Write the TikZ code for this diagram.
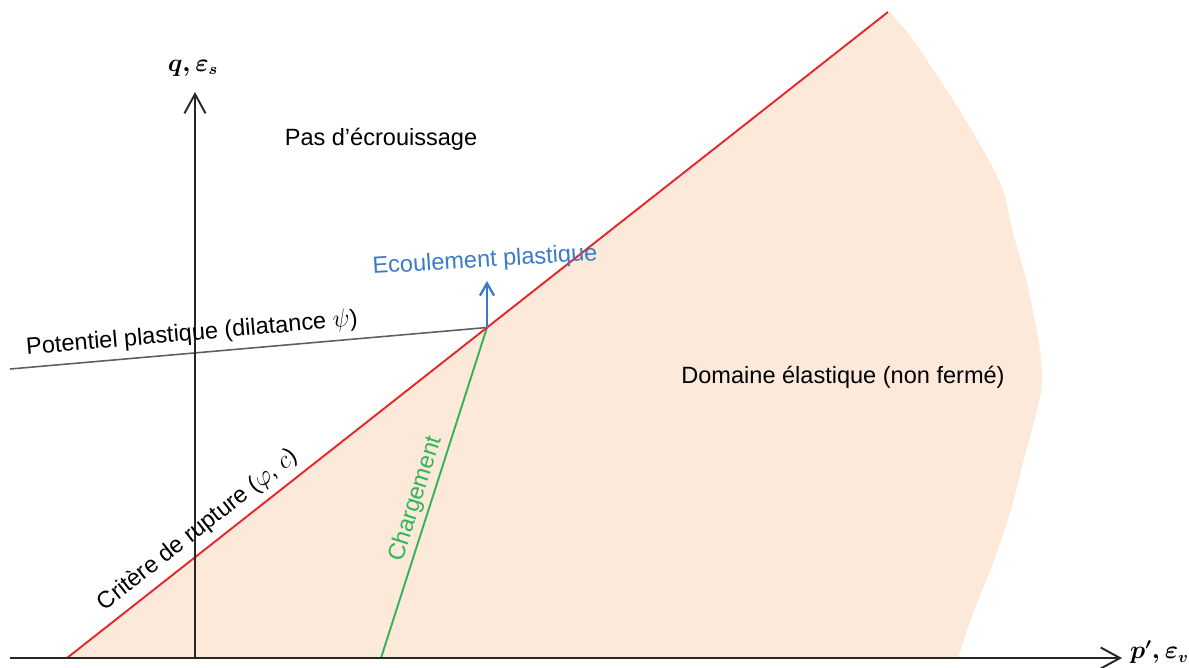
\documentclass[tikz,border=0pt]{standalone}
\usepackage{amsmath}
\usepackage{fontspec}
\setmainfont{Liberation Sans}
\usetikzlibrary{arrows.meta}
\definecolor{peach}{RGB}{252,233,218}
\definecolor{critred}{RGB}{230,40,40}
\definecolor{flowblue}{RGB}{58,124,200}
\definecolor{loadgreen}{RGB}{50,180,90}
\definecolor{potgray}{RGB}{95,95,95}
\begin{document}
\begin{tikzpicture}[x=0.02cm,y=-0.02cm,
  lbl/.style={font=\fontsize{13.4}{16}\selectfont, inner sep=1pt},
  axis/.style={line width=1.1pt, black!85, -{Straight Barb[length=11pt,width=12pt,line width=1.1pt]}},
  crit/.style={line width=1.1pt, critred},
  load/.style={line width=1.1pt, loadgreen},
  pot/.style={line width=0.9pt, potgray},
  flow/.style={line width=1.5pt, flowblue, -{Straight Barb[length=7pt,width=8pt,line width=1.3pt]}}]
\path[use as bounding box] (0,0) rectangle (1189,667);
% elastic domain
\fill[peach] (67,658) -- (890,12) -- plot[smooth, tension=0.5] coordinates {
  (890,12) (913,40) (953,100) (983,150) (1003,190) (1013,233) (1027,283)
  (1034,317) (1040,350) (1042,383) (1037,410) (1023,463) (1010,513)
  (993,563) (973,613) (958,658)} -- cycle;
% coordinates
\coordinate (xs) at (10,658);
\coordinate (xe) at (1122,658);
\coordinate (ys) at (195,658);
\coordinate (ye) at (195,92);
\coordinate (rs) at (67,658);
\coordinate (re) at (888,12);
\coordinate (P) at (487,327.5);
\coordinate (gs) at (381,658);
\coordinate (ps) at (10,369);
\coordinate (bt) at (487,281);
% lines
\draw[pot] (ps) -- (P);
\draw[load] (gs) -- (P);
\draw[crit] (rs) -- (re);
\draw[axis] (ys) -- (ye);
\draw[axis] (xs) -- (xe);
\draw[flow] (P) -- (bt);
% labels
\node[lbl, anchor=west] (xl) at (1128,652) {$\boldsymbol{p',\varepsilon_v}$};
\node[lbl] (yl) at (193,68) {$\boldsymbol{q,\varepsilon_s}$};
\node[lbl] (pas) at (381,139) {Pas d'écrouissage};
\node[lbl, text=flowblue, rotate=3.5] (ecl) at (485,261) {Ecoulement plastique};
\node[lbl, rotate=5] (potl) at (192,334) {Potentiel plastique (dilatance $\psi$)};
\node[lbl] (dom) at (843,377) {Domaine élastique (non fermé)};
\node[lbl, rotate=38.2] (crl) at (198,530) {Critère de rupture ($\varphi$, $c$)};
\node[lbl, text=loadgreen, rotate=72.2] (chl) at (416,499) {Chargement};
\end{tikzpicture}
\end{document}
